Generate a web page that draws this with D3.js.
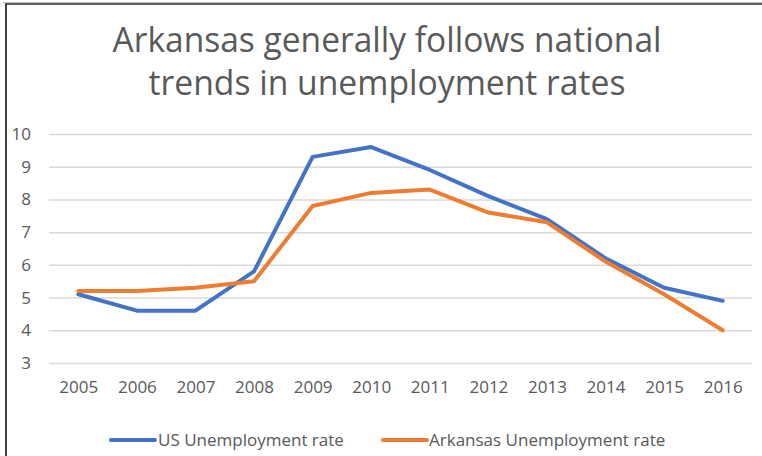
<!DOCTYPE html>
<html>
<head>
<meta charset="utf-8">
<script src="https://cdn.jsdelivr.net/npm/d3@7"></script>
<style>
  html, body { margin: 0; padding: 0; background: #fff; }
  svg { display: block; }
  text { font-family: "Open Sans", "Noto Sans", sans-serif; fill: #595959; }
</style>
</head>
<body>
<svg id="chart" width="762" height="456"></svg>
<script>
const years = ["2005","2006","2007","2008","2009","2010","2011","2012","2013","2014","2015","2016"];
const usRate = [5.1, 4.6, 4.6, 5.8, 9.3, 9.6, 8.9, 8.1, 7.4, 6.2, 5.3, 4.9];
const arRate = [5.2, 5.2, 5.3, 5.5, 7.8, 8.2, 8.3, 7.6, 7.3, 6.1, 5.1, 4.0];
const yTicks = [3, 4, 5, 6, 7, 8, 9, 10];
const titleLines = ["Arkansas generally follows national", "trends in unemployment rates"];
const seriesNames = ["US Unemployment rate", "Arkansas Unemployment rate"];
const colors = ["#4472C4", "#ED7D31"];

const svg = d3.select("#chart");
const plot = { left: 49, right: 752, top: 134, bottom: 363 };

const x = d3.scalePoint().domain(years).range([plot.left, plot.right]).padding(0.5);
const y = d3.scaleLinear().domain([3, 10]).range([plot.bottom, plot.top]);

// frame
svg.append("line").attr("x1", 5).attr("x2", 762).attr("y1", 4).attr("y2", 4)
  .attr("stroke", "#2b2b2b").attr("stroke-width", 1.5);
svg.append("line").attr("x1", 3).attr("x2", 762).attr("y1", 2.5).attr("y2", 2.5)
  .attr("stroke", "#bbb").attr("stroke-width", 1);
svg.append("line").attr("x1", 6).attr("x2", 6).attr("y1", 4).attr("y2", 456)
  .attr("stroke", "#2b2b2b").attr("stroke-width", 1.8);

// title
const titleBaselines = [52, 95];
const titleWidths = [549, 477];
titleLines.forEach((t, i) => {
  svg.append("text")
    .attr("x", 387).attr("y", titleBaselines[i])
    .attr("text-anchor", "middle")
    .attr("font-size", 35)
    .attr("textLength", titleWidths[i])
    .attr("lengthAdjust", "spacingAndGlyphs")
    .text(t);
});

// y grid + labels
const yAxis = d3.axisLeft(y).tickValues(yTicks).tickFormat(d3.format("d"))
  .tickSize(-(plot.right - plot.left)).tickPadding(18);
const gy = svg.append("g").attr("transform", `translate(${plot.left},0)`).call(yAxis);
gy.select(".domain").remove();
gy.selectAll(".tick line").attr("stroke", "#d9d9d9").attr("stroke-width", 1.5);
gy.selectAll(".tick text").attr("font-size", 17).attr("fill", "#595959")
  .attr("font-family", "'Open Sans', sans-serif");

// x labels
const xAxis = d3.axisBottom(x).tickSize(0).tickPadding(0);
const gx = svg.append("g").attr("transform", `translate(0,${plot.bottom})`).call(xAxis);
gx.select(".domain").remove();
gx.selectAll(".tick text").attr("font-size", 17).attr("fill", "#595959")
  .attr("font-family", "'Open Sans', sans-serif")
  .attr("dy", null).attr("y", 30);

// lines
const line = d3.line().x((d, i) => x(years[i])).y(d => y(d));
[usRate, arRate].forEach((s, i) => {
  svg.append("path").datum(s)
    .attr("fill", "none").attr("stroke", colors[i]).attr("stroke-width", 4)
    .attr("stroke-linejoin", "round").attr("stroke-linecap", "round")
    .attr("d", line);
});

// legend
const legendItems = [{ x: 111, tx: 158 }, { x: 383, tx: 429 }];
seriesNames.forEach((n, i) => {
  svg.append("line").attr("x1", legendItems[i].x).attr("x2", legendItems[i].x + 44)
    .attr("y1", 440).attr("y2", 440).attr("stroke", colors[i]).attr("stroke-width", 4)
    .attr("stroke-linecap", "round");
  svg.append("text").attr("x", legendItems[i].tx).attr("y", 446)
    .attr("font-size", 17).text(n);
});
</script>
</body>
</html>
